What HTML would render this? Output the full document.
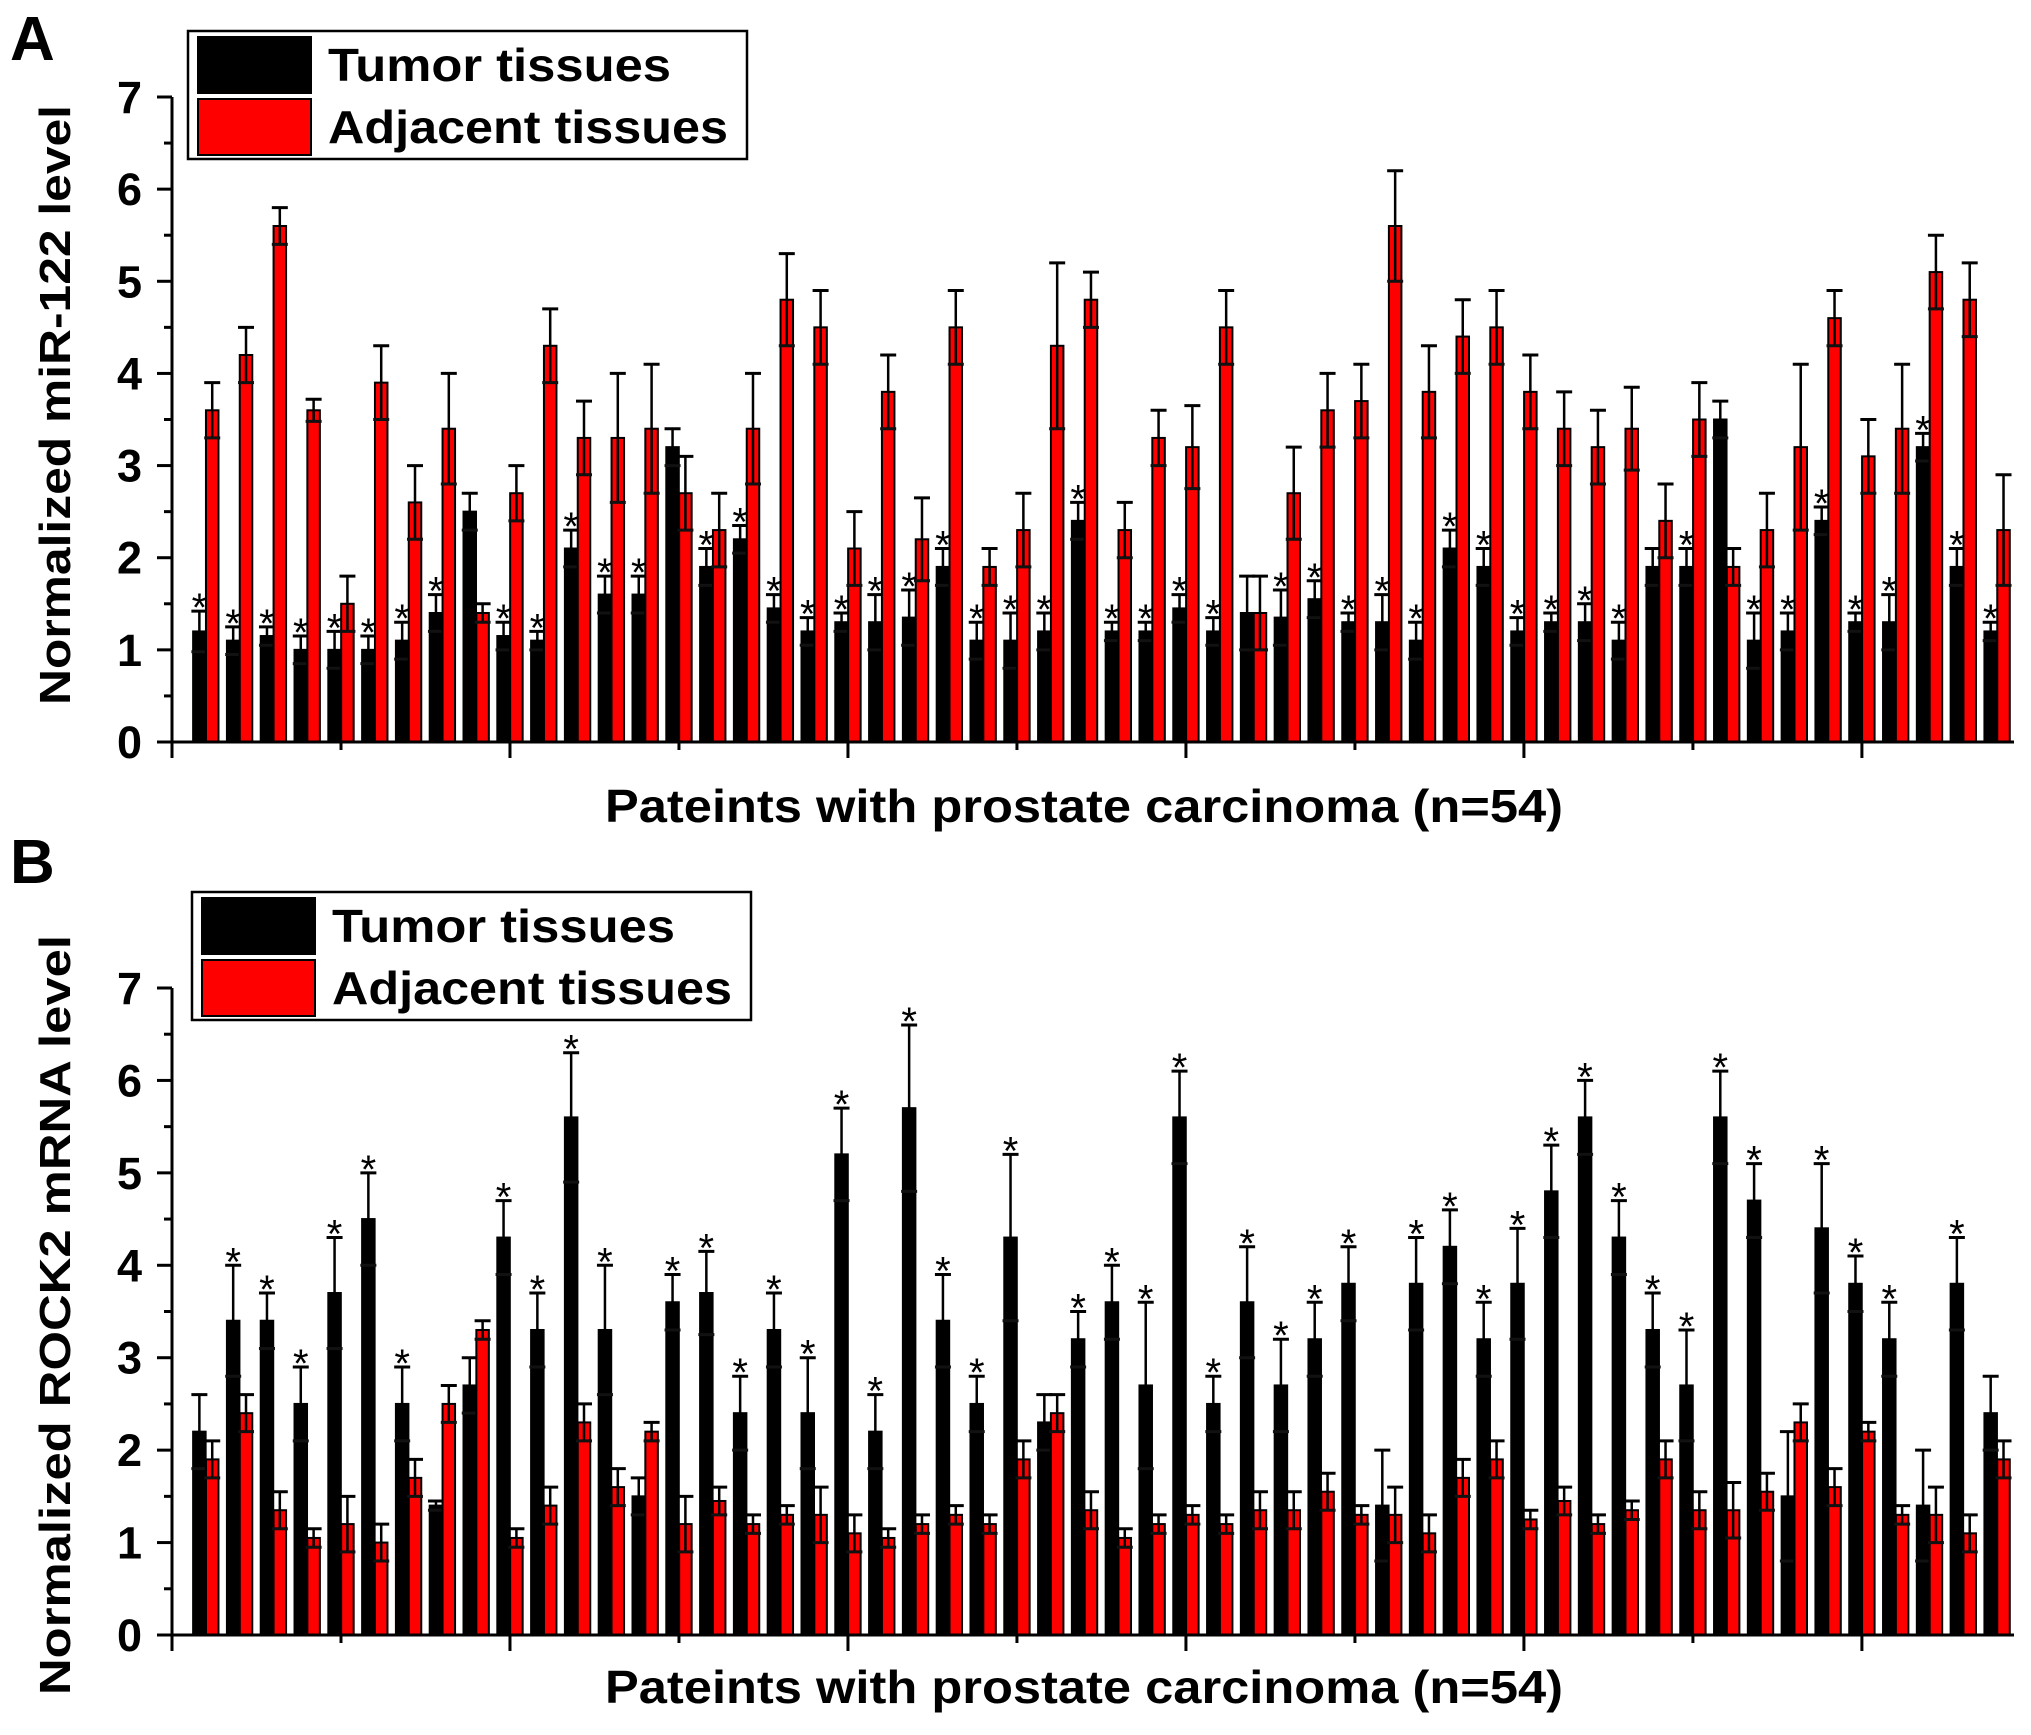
<!DOCTYPE html>
<html><head><meta charset="utf-8"><style>
html,body{margin:0;padding:0;background:#fff;}
svg{display:block;font-family:"Liberation Sans",Arial,sans-serif;font-weight:bold;}
</style></head><body>
<svg id="fig" width="2031" height="1735" viewBox="0 0 2031 1735" xmlns="http://www.w3.org/2000/svg"></svg>
<script>
// Panel A: miR-122
const aTumor = [1.2,1.1,1.15,1.0,1.0,1.0,1.1,1.4,2.5,1.15,1.1,2.1,1.6,1.6,3.2,1.9,2.2,1.45,1.2,1.3,1.3,1.35,1.9,1.1,1.1,1.2,2.4,1.2,1.2,1.45,1.2,1.4,1.35,1.55,1.3,1.3,1.1,2.1,1.9,1.2,1.3,1.3,1.1,1.9,1.9,3.5,1.1,1.2,2.4,1.3,1.3,3.2,1.9,1.2];
const aTumorErr = [0.22,0.15,0.1,0.15,0.2,0.15,0.2,0.2,0.2,0.15,0.1,0.2,0.2,0.2,0.2,0.2,0.15,0.15,0.15,0.1,0.3,0.3,0.2,0.2,0.3,0.2,0.2,0.1,0.1,0.15,0.15,0.4,0.3,0.2,0.1,0.3,0.2,0.2,0.2,0.15,0.1,0.2,0.2,0.2,0.2,0.2,0.3,0.2,0.15,0.1,0.3,0.15,0.2,0.1];
const aAdj = [3.6,4.2,5.6,3.6,1.5,3.9,2.6,3.4,1.4,2.7,4.3,3.3,3.3,3.4,2.7,2.3,3.4,4.8,4.5,2.1,3.8,2.2,4.5,1.9,2.3,4.3,4.8,2.3,3.3,3.2,4.5,1.4,2.7,3.6,3.7,5.6,3.8,4.4,4.5,3.8,3.4,3.2,3.4,2.4,3.5,1.9,2.3,3.2,4.6,3.1,3.4,5.1,4.8,2.3];
const aAdjErr = [0.3,0.3,0.2,0.12,0.3,0.4,0.4,0.6,0.1,0.3,0.4,0.4,0.7,0.7,0.4,0.4,0.6,0.5,0.4,0.4,0.4,0.45,0.4,0.2,0.4,0.9,0.3,0.3,0.3,0.45,0.4,0.4,0.5,0.4,0.4,0.6,0.5,0.4,0.4,0.4,0.4,0.4,0.45,0.4,0.4,0.2,0.4,0.9,0.3,0.4,0.7,0.4,0.4,0.6];
const aStar = [1,1,1,1,1,1,1,1,0,1,1,1,1,1,0,1,1,1,1,1,1,1,1,1,1,1,1,1,1,1,1,0,1,1,1,1,1,1,1,1,1,1,1,0,1,0,1,1,1,1,1,1,1,1];
// Panel B: ROCK2
const bTumor = [2.2,3.4,3.4,2.5,3.7,4.5,2.5,1.4,2.7,4.3,3.3,5.6,3.3,1.5,3.6,3.7,2.4,3.3,2.4,5.2,2.2,5.7,3.4,2.5,4.3,2.3,3.2,3.6,2.7,5.6,2.5,3.6,2.7,3.2,3.8,1.4,3.8,4.2,3.2,3.8,4.8,5.6,4.3,3.3,2.7,5.6,4.7,1.5,4.4,3.8,3.2,1.4,3.8,2.4];
const bTumorErr = [0.4,0.6,0.3,0.4,0.6,0.5,0.4,0.05,0.3,0.4,0.4,0.7,0.7,0.2,0.3,0.45,0.4,0.4,0.6,0.5,0.4,0.9,0.5,0.3,0.9,0.3,0.3,0.4,0.9,0.5,0.3,0.6,0.5,0.4,0.4,0.6,0.5,0.4,0.4,0.6,0.5,0.4,0.4,0.4,0.6,0.5,0.4,0.7,0.7,0.3,0.4,0.6,0.5,0.4];
const bAdj = [1.9,2.4,1.35,1.05,1.2,1.0,1.7,2.5,3.3,1.05,1.4,2.3,1.6,2.2,1.2,1.45,1.2,1.3,1.3,1.1,1.05,1.2,1.3,1.2,1.9,2.4,1.35,1.05,1.2,1.3,1.2,1.35,1.35,1.55,1.3,1.3,1.1,1.7,1.9,1.25,1.45,1.2,1.35,1.9,1.35,1.35,1.55,2.3,1.6,2.2,1.3,1.3,1.1,1.9];
const bAdjErr = [0.2,0.2,0.2,0.1,0.3,0.2,0.2,0.2,0.1,0.1,0.2,0.2,0.2,0.1,0.3,0.15,0.1,0.1,0.3,0.2,0.1,0.1,0.1,0.1,0.2,0.2,0.2,0.1,0.1,0.1,0.1,0.2,0.2,0.2,0.1,0.3,0.2,0.2,0.2,0.1,0.15,0.1,0.1,0.2,0.2,0.3,0.2,0.2,0.2,0.1,0.1,0.3,0.2,0.2];
const bStar = [0,1,1,1,1,1,1,0,0,1,1,1,1,0,1,1,1,1,1,1,1,1,1,1,1,0,1,1,1,1,1,1,1,1,1,0,1,1,1,1,1,1,1,1,1,1,1,0,1,1,1,0,1,0];
const yTicks = ["0","1","2","3","4","5","6","7"];

const svg = document.getElementById('fig');
const NS = 'http://www.w3.org/2000/svg';
function mk(tag, attrs, parent){
  const e = document.createElementNS(NS, tag);
  for (const k in attrs) e.setAttribute(k, attrs[k]);
  (parent||svg).appendChild(e);
  return e;
}
const X0 = 172, X1 = 2014, XMAX = 54.5;
function xs(v){ return X0 + v/XMAX*(X1-X0); }

function panel(o){
  const g = mk('g', {});
  
  
  const ys = v => o.y0 - v/7*(o.y0-o.y7);
  const L = mk('text', {x:10, y:o.letterY, 'font-size':62}, g);
  L.textContent = o.letter;
  
  
  const bw = 0.37;
  for (let i=0;i<54;i++){
    const c = i+1;
    const pairs = [[o.t[i], o.te[i], c-0.19, '#000'], [o.a[i], o.ae[i], c+0.19, '#ff0000']];
    pairs.forEach((p, j)=>{
      const xl = xs(p[2]-bw/2), xr = xs(p[2]+bw/2), xc = xs(p[2]);
      const r = mk('rect', {x:xl, y:ys(p[0]), width:xr-xl, height:o.y0-ys(p[0]), fill:p[3], stroke:'#000', 'stroke-width':2}, g);
      
      
      mk('line', {x1:xc, x2:xc, y1:ys(p[0]-p[1]), y2:ys(p[0]+p[1]), stroke:'#000', 'stroke-width':2.5}, g);
      mk('line', {x1:xc-8, x2:xc+8, y1:ys(p[0]+p[1]), y2:ys(p[0]+p[1]), stroke:'#000', 'stroke-width':3}, g);
      mk('line', {x1:xc-8, x2:xc+8, y1:ys(p[0]-p[1]), y2:ys(p[0]-p[1]), stroke:'#111', 'stroke-width':3}, g);
    });
    if (o.s[i]){
      const st = mk('text', {x:xs(c-0.19), y:ys(o.t[i]+o.te[i])+10, 'font-size':40, 'text-anchor':'middle', 'font-weight':'normal'}, g);
      st.textContent = '*';
      
      
    }
  }
  mk('line', {x1:X0, x2:X0, y1:o.y7, y2:o.y0, stroke:'#000', 'stroke-width':3}, g);
  mk('line', {x1:X0, x2:X1, y1:o.y0, y2:o.y0, stroke:'#000', 'stroke-width':3}, g);
  for (let k=0;k<=14;k++){
    const v = k/2, y = ys(v);
    mk('line', {x1:X0-(k%2?8:15), x2:X0, y1:y, y2:y, stroke:'#000', 'stroke-width':3}, g);
  }
  yTicks.forEach((t,k)=>{
    const tx = mk('text', {x:142, y:ys(k)+16, 'font-size':45, 'text-anchor':'end'}, g);
    tx.textContent = t;
    
    
  });
  for (let v=0; v<=50; v+=5){
    mk('line', {x1:xs(v), x2:xs(v), y1:o.y0, y2:o.y0+(v%10?8:16), stroke:'#000', 'stroke-width':3}, g);
  }
  const yt = mk('text', {x:0, y:0, 'font-size':44, 'text-anchor':'middle', textLength:o.ytLen, lengthAdjust:'spacingAndGlyphs', transform:`translate(70,${o.ytY}) rotate(-90)`}, g);
  yt.textContent = o.ytitle;
  
  
  const xt = mk('text', {x:1084, y:o.xtY, 'font-size':46, 'text-anchor':'middle', textLength:958, lengthAdjust:'spacingAndGlyphs'}, g);
  xt.textContent = 'Pateints with prostate carcinoma (n=54)';
  
  
  const lg = mk('g', {}, g);
  
  
  mk('rect', {x:o.lx, y:o.ly, width:559, height:128, fill:'#fff', stroke:'#000', 'stroke-width':2.5}, lg);
  const items = [['Tumor tissues','#000',343],['Adjacent tissues','#ff0000',400]];
  items.forEach((it,k)=>{
    const e = mk('g', {}, lg);
    
    
    mk('rect', {x:o.lx+10, y:o.ly+6+k*62, width:113, height:56, fill:it[1], stroke:'#000', 'stroke-width':2}, e);
    const t = mk('text', {x:o.lx+140, y:o.ly+50+k*62, 'font-size':46, textLength:it[2], lengthAdjust:'spacingAndGlyphs'}, e);
    t.textContent = it[0];
  });
}
panel({name:'panel-a-mir122', letter:'A', letterY:60, y0:742, y7:97, t:aTumor, te:aTumorErr, a:aAdj, ae:aAdjErr, s:aStar,
  ytitle:'Normalized miR-122 level', ytY:405, ytLen:600, xtY:822, lx:188, ly:31});
panel({name:'panel-b-rock2', letter:'B', letterY:883, y0:1635, y7:988, t:bTumor, te:bTumorErr, a:bAdj, ae:bAdjErr, s:bStar,
  ytitle:'Normalized ROCK2 mRNA level', ytY:1315, ytLen:760, xtY:1703, lx:192, ly:892});
</script>
</body></html>
